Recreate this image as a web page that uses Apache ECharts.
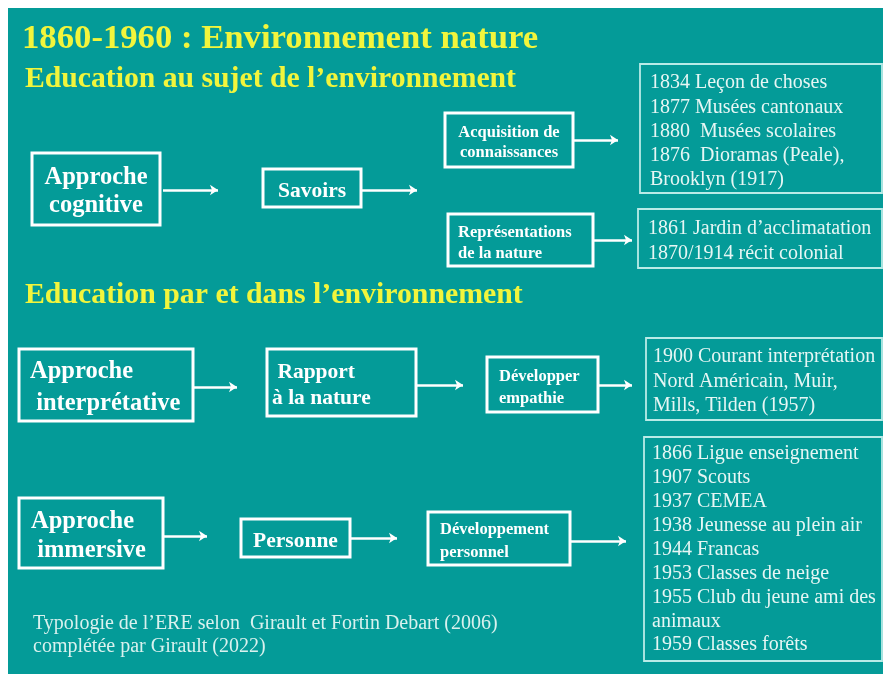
<!DOCTYPE html>
<html>
<head>
<meta charset="utf-8">
<script src="https://cdn.jsdelivr.net/npm/echarts@6/dist/echarts.min.js"></script>
<style>html,body{margin:0;padding:0;background:#fff}#c{width:883px;height:674px}</style>
</head>
<body>
<div id="c"></div>
<script>
// ---------- content ----------
const titleText = '1860-1960 : Environnement nature';
const headings = ['Education au sujet de l’environnement', 'Education par et dans l’environnement'];
const approaches = ['Approche\ncognitive', 'Approche\n interprétative', 'Approche\n immersive'];
const relations = ['Savoirs', ' Rapport\nà la nature', 'Personne'];
const aims = ['Acquisition de\nconnaissances', 'Représentations\nde la nature', 'Développer\nempathie', 'Développement\npersonnel'];
const milestones1 = ['1834 Leçon de choses', '1877 Musées cantonaux', '1880  Musées scolaires', '1876  Dioramas (Peale),', 'Brooklyn (1917)'];
const milestones2 = ['1861 Jardin d’acclimatation', '1870/1914 récit colonial'];
const milestones3 = ['1900 Courant interprétation', 'Nord Américain, Muir,', 'Mills, Tilden (1957)'];
const milestones4 = ['1866 Ligue enseignement', '1907 Scouts', '1937 CEMEA', '1938 Jeunesse au plein air', '1944 Francas', '1953 Classes de neige', '1955 Club du jeune ami des', 'animaux', '1959 Classes forêts'];
const caption = ['Typologie de l’ERE selon  Girault et Fortin Debart (2006)', 'complétée par Girault (2022)'];

// ---------- layout (axis units = pixels) ----------
const W = 883, H = 674;
const SERIF = '"Liberation Serif", "Times New Roman", serif';
const TEAL = '#049b98', YELLOW = '#f2f53c', WHITE = '#ffffff', SOFT = '#e6f6f4';

const approachLayout = [
  {rect: [32, 153, 128, 72], align: 'center', size: 24.5, lh: 28},
  {rect: [19, 349, 174, 72], align: 'left', padX: 11, size: 24.5, lh: 32},
  {rect: [19, 498, 144, 70], align: 'left', padX: 12, size: 24.5, lh: 29}
];
const relationLayout = [
  {rect: [263, 169, 98, 38], align: 'center', size: 21.5, lh: 26},
  {rect: [267, 349, 149, 67], align: 'left', padX: 5, size: 21.5, lh: 26},
  {rect: [241, 519, 109, 38], align: 'center', size: 21.5, lh: 26}
];
const aimLayout = [
  {rect: [445, 113, 128, 54], align: 'center', size: 16.5, lh: 20},
  {rect: [448, 214, 145, 52], align: 'left', padX: 10, size: 16.5, lh: 21},
  {rect: [487, 357, 111, 55], align: 'left', padX: 12, size: 16.5, lh: 22},
  {rect: [428, 512, 142, 53], align: 'left', padX: 12, size: 16.5, lh: 23}
];
const infoLayout = [
  {rect: [640, 64, 242, 129], padX: 10, first: 83, lh: 24.3},
  {rect: [638, 209, 244, 59], padX: 10, first: 229, lh: 25},
  {rect: [646, 338, 236, 82], padX: 7, first: 357, lh: 24.5},
  {rect: [644, 437, 238, 224], padX: 8, first: 454, lh: 23.9}
];
// arrows: [x start, y, x end]
const arrowLayout = [
  [163, 190, 218], [362, 190, 417], [573, 140, 618], [593, 240, 632],
  [193, 387, 237], [416, 385, 463], [598, 385, 632],
  [163, 536, 207], [350, 538, 397], [570, 541, 626]
];

const boxes = [];
function addBold(text, L) {
  boxes.push({text, rect: L.rect, align: L.align, padX: L.padX || 0, size: L.size, lh: L.lh,
    bold: true, color: WHITE, stroke: WHITE, lw: 3, mode: 'middle', dy: 3});
}
function addInfo(lines, L) {
  boxes.push({text: lines.join('\n'), rect: L.rect, align: 'left', padX: L.padX, size: 20, lh: L.lh,
    bold: false, color: SOFT, stroke: '#b9ebe7', lw: 1.8, mode: 'top', first: L.first, dy: 0});
}
approaches.forEach((t, i) => addBold(t, approachLayout[i]));
relations.forEach((t, i) => addBold(t, relationLayout[i]));
aims.forEach((t, i) => addBold(t, aimLayout[i]));
[milestones1, milestones2, milestones3, milestones4].forEach((m, i) => addInfo(m, infoLayout[i]));

function renderBox(params, api) {
  const b = boxes[params.dataIndex];
  const x = api.value(0), y = api.value(1), w = api.value(2), h = api.value(3);
  const p0 = api.coord([x, y]);
  const p1 = api.coord([x + w, y + h]);
  const rw = p1[0] - p0[0], rh = p1[1] - p0[1];
  let tx, ty, va;
  if (b.align === 'center') { tx = p0[0] + rw / 2; } else { tx = p0[0] + b.padX; }
  if (b.mode === 'top') { ty = api.coord([x, b.first])[1] - b.lh / 2; va = 'top'; }
  else { ty = p0[1] + rh / 2 + b.dy; va = 'middle'; }
  return {
    type: 'group',
    children: [
      {type: 'rect', shape: {x: p0[0], y: p0[1], width: rw, height: rh},
       style: {fill: 'none', stroke: b.stroke, lineWidth: b.lw}},
      {type: 'text', x: tx, y: ty,
       style: {text: b.text, fill: b.color, align: b.align, verticalAlign: va,
         fontFamily: SERIF, fontWeight: b.bold ? 'bold' : 'normal', fontSize: b.size, lineHeight: b.lh}}
    ]
  };
}

const arrowData = arrowLayout.map(a => ({coords: [[a[0], a[1]], [a[2], a[1]]]}));

const chart = echarts.init(document.getElementById('c'), null, {renderer: 'canvas'});
chart.setOption({
  animation: false,
  backgroundColor: '#ffffff',
  graphic: [{type: 'rect', left: 8, top: 8, z: -100, shape: {width: W - 8, height: H - 8}, style: {fill: TEAL}, silent: true}],
  title: [
    {text: titleText, left: 22, top: 22, padding: 0,
     textStyle: {fontFamily: SERIF, fontWeight: 'bold', fontSize: 34.7, color: YELLOW}},
    {text: headings[0], left: 25, top: 64, padding: 0,
     textStyle: {fontFamily: SERIF, fontWeight: 'bold', fontSize: 29.7, color: YELLOW}},
    {text: headings[1], left: 25, top: 280, padding: 0,
     textStyle: {fontFamily: SERIF, fontWeight: 'bold', fontSize: 29.8, color: YELLOW}},
    {text: caption.join('\n'), left: 33, top: 612, padding: 0,
     textStyle: {fontFamily: SERIF, fontWeight: 'normal', fontSize: 20, lineHeight: 23, color: '#d9f1ee'}}
  ],
  grid: {left: 0, right: 0, top: 0, bottom: 0},
  xAxis: {type: 'value', min: 0, max: W, show: false},
  yAxis: {type: 'value', min: 0, max: H, inverse: true, show: false},
  series: [
    {type: 'custom', coordinateSystem: 'cartesian2d', silent: true, z: 3,
     renderItem: renderBox, data: boxes.map(b => b.rect)},
    {type: 'lines', coordinateSystem: 'cartesian2d', silent: true, z: 4,
     symbol: ['none', 'arrow'], symbolSize: 8,
     lineStyle: {color: WHITE, width: 2.5, opacity: 1, curveness: 0},
     data: arrowData}
  ]
});
</script>
</body>
</html>
